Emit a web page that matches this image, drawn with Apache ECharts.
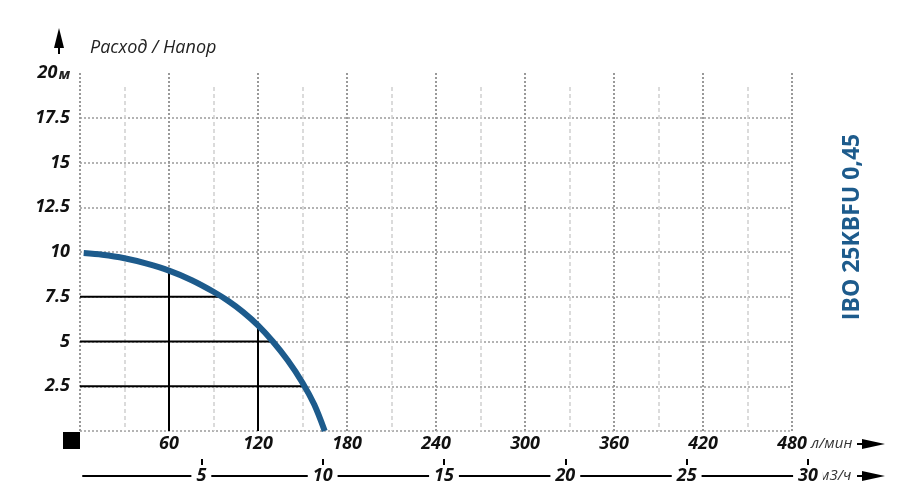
<!DOCTYPE html>
<html>
<head>
<meta charset="utf-8">
<script src="https://cdn.jsdelivr.net/npm/echarts@6/dist/echarts.min.js"></script>
<style>html,body{margin:0;padding:0;background:#fff}#c{width:915px;height:501px}</style>
</head>
<body>
<div id="c"></div>
<script>
// Pump curve: flow (l/min) vs head (m)
const flowLpm = [2.5, 15, 30, 45, 60, 75, 90, 100, 110, 120, 130, 140, 150, 158, 165];
const headM   = [9.94, 9.845, 9.65, 9.35, 8.96, 8.44, 7.78, 7.26, 6.64, 5.90, 5.00, 3.95, 2.70, 1.46, 0];
// Reference drop lines
const refFlows = [60, 120];
const refFlowHeads = [8.96, 5.90];
const refHeads = [7.5, 5, 2.5];
const refHeadFlows = [95.4, 130, 151.3];
// Axes
const yTicks = [0, 2.5, 5, 7.5, 10, 12.5, 15, 17.5, 20];
const lpmTicks = [0, 60, 120, 180, 240, 300, 360, 420, 480];
const m3hTicks = [5, 10, 15, 20, 25, 30];
const title = 'Расход / Напор';
const model = 'IBO 25KBFU 0,45';

const FONT = 'Open Sans';
const curveColor = '#1d5b8c';
const lblStyle = {fontFamily: FONT, fontWeight: 'bold', fontStyle: 'italic', fontSize: 18, color: '#111'};

const curveData = flowLpm.map((q, i) => [q, headM[i]]);
const refSeries = [];
refFlows.forEach((q, i) => refSeries.push({
  type: 'line', xAxisIndex: 0, yAxisIndex: 0, data: [[q, 0], [q, refFlowHeads[i]]],
  symbol: 'none', lineStyle: {color: '#000', width: 2}, z: 2, silent: true
}));
refHeads.forEach((h, i) => refSeries.push({
  type: 'line', xAxisIndex: 0, yAxisIndex: 0, data: [[0, h], [refHeadFlows[i], h]],
  symbol: 'none', lineStyle: {color: '#000', width: 2}, z: 2, silent: true
}));

const chart = echarts.init(document.getElementById('c'), null, {renderer: 'canvas'});
chart.setOption({
  animation: false,
  grid: [
    {left: 80, right: 123, top: 73, bottom: 70},
    {left: 80, right: 123, top: 87, bottom: 70},
    {left: 80, right: 107, top: 440, bottom: 36},
    {left: 83, right: 107, top: 450, bottom: 25}
  ],
  xAxis: [
    {gridIndex: 0, type: 'value', min: lpmTicks[0], max: lpmTicks[lpmTicks.length - 1], interval: 60,
     axisLine: {show: false}, axisTick: {show: false},
     axisLabel: Object.assign({}, lblStyle, {margin: 4, lineHeight: 18,
       formatter: v => v === 0 ? '' : String(v)}),
     splitLine: {show: true, lineStyle: {color: '#999', width: 2, type: [2, 2]}}, z: 1},
    {gridIndex: 1, type: 'value', min: 0, max: 480, interval: 30,
     axisLine: {show: false}, axisTick: {show: false}, axisLabel: {show: false},
     splitLine: {show: true, lineStyle: {color: ['transparent', '#cfcfcf'], width: 1.5, type: [4, 3]}}, z: 0},
    {gridIndex: 2, type: 'value', min: 0, max: m3hTicks[m3hTicks.length - 1], interval: 5,
     axisLine: {show: false},
     axisTick: {show: true, inside: true, length: 6, customValues: m3hTicks, lineStyle: {color: '#000', width: 2}},
     axisLabel: Object.assign({}, lblStyle, {margin: 2, lineHeight: 18, backgroundColor: '#fff', padding: [0, 5],
       customValues: m3hTicks, formatter: v => String(v)}),
     splitLine: {show: false}, z: 5},
    {gridIndex: 3, type: 'value', min: 0, max: 30,
     axisLine: {show: true, lineStyle: {color: '#000', width: 2}},
     axisTick: {show: false}, axisLabel: {show: false}, splitLine: {show: false}, z: 1}
  ],
  yAxis: [
    {gridIndex: 0, type: 'value', min: yTicks[0], max: yTicks[yTicks.length - 1], interval: 2.5,
     axisLine: {show: false}, axisTick: {show: false},
     axisLabel: Object.assign({}, lblStyle, {margin: 10,
       formatter: v => v === 0 ? '' : (v === 20 ? '{b|20}{u|м}' : String(v)),
       rich: {b: Object.assign({}, lblStyle), u: {fontFamily: FONT, fontStyle: 'italic', fontSize: 15, color: '#222', padding: [3, 0, 0, 1]}}}),
     splitLine: {show: true, lineStyle: {color: ['#9a9a9a', '#9a9a9a', '#9a9a9a', '#9a9a9a', '#9a9a9a', '#9a9a9a', '#9a9a9a', '#9a9a9a', 'transparent'], width: 1.5, type: [2, 2]}}},
    {gridIndex: 1, type: 'value', min: 0, max: 20, show: false},
    {gridIndex: 2, type: 'value', show: false},
    {gridIndex: 3, type: 'value', show: false}
  ],
  series: refSeries.concat([
    {type: 'line', xAxisIndex: 0, yAxisIndex: 0, data: curveData, smooth: 0.3, symbol: 'none',
     lineStyle: {color: curveColor, width: 6, cap: 'butt', join: 'round'}, z: 5, silent: true}
  ]),
  graphic: [
    {type: 'text', left: 90, top: 39, style: {text: title, font: 'italic 18px "Open Sans"', fill: '#222'}},
    {type: 'polygon', shape: {points: [[59, 28], [64, 48], [54, 48]]}, style: {fill: '#000'}},
    {type: 'line', shape: {x1: 59, y1: 44, x2: 59, y2: 54}, style: {stroke: '#000', lineWidth: 2}},
    {type: 'rect', shape: {x: 63, y: 432, width: 17, height: 17}, style: {fill: '#000'}},
    {type: 'text', x: 811, y: 444, style: {text: 'л/мин', font: 'italic 15px "Open Sans"', fill: '#333', textVerticalAlign: 'middle', verticalAlign: 'middle'}},
    {type: 'text', x: 819, y: 476, style: {text: 'м3/ч', font: 'italic 15px "Open Sans"', fill: '#333', textVerticalAlign: 'middle', verticalAlign: 'middle'}},
    {type: 'polygon', shape: {points: [[862, 439], [885, 444], [862, 449]]}, style: {fill: '#000'}},
    {type: 'line', shape: {x1: 857, y1: 444, x2: 866, y2: 444}, style: {stroke: '#000', lineWidth: 2}},
    {type: 'polygon', shape: {points: [[862, 471], [885, 476], [862, 481]]}, style: {fill: '#000'}},
    {type: 'line', shape: {x1: 857, y1: 476, x2: 866, y2: 476}, style: {stroke: '#000', lineWidth: 2}},
    {type: 'text', x: 852, y: 227, rotation: Math.PI / 2,
     style: {text: model, font: 'bold 23px "Open Sans"', fill: curveColor, align: 'center', verticalAlign: 'middle', textAlign: 'center', textVerticalAlign: 'middle'}}
  ]
});
</script>
</body>
</html>
